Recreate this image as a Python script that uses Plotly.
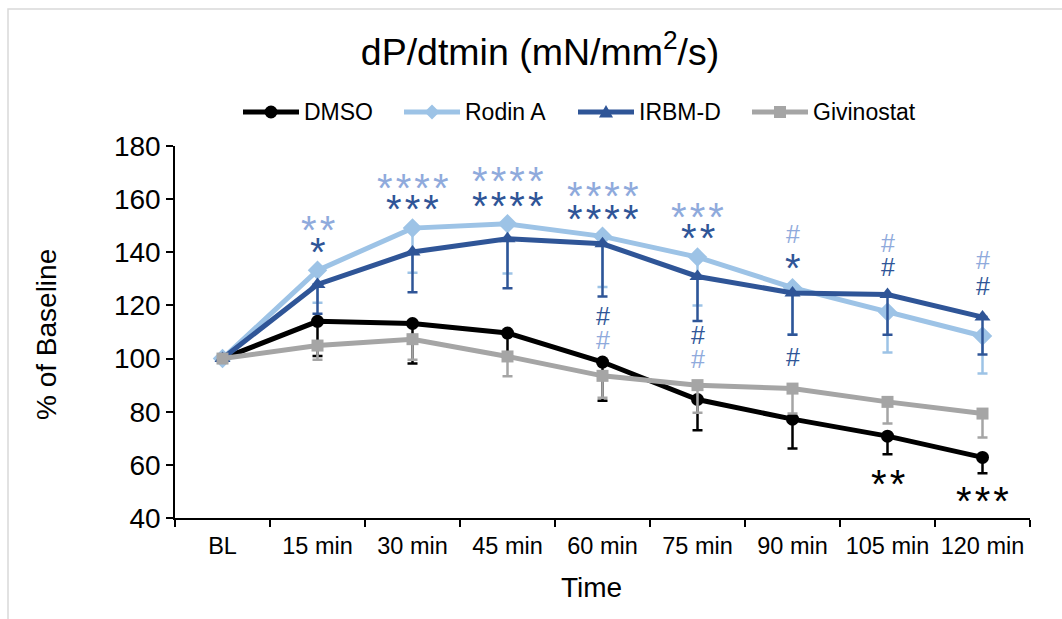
import plotly.graph_objects as go

# Time points and group means (% of baseline) with SEM (lower bars only)
time_labels = ["BL", "15 min", "30 min", "45 min", "60 min", "75 min", "90 min", "105 min", "120 min"]

dmso_mean = [100, 114.0, 113.2, 109.6, 98.7, 84.6, 77.2, 70.8, 62.8]
dmso_sem = [0, 13.0, 15.1, 9.0, 14.6, 11.6, 11.0, 6.8, 6.0]

rodin_mean = [100, 133.2, 149.1, 150.7, 146.0, 138.2, 126.7, 117.5, 108.5]
rodin_sem = [0, 12.2, 16.8, 18.7, 19.1, 18.2, 17.5, 15.2, 14.1]

irbm_mean = [100, 127.9, 140.1, 145.1, 143.2, 130.9, 124.7, 124.1, 115.6]
irbm_sem = [0, 11.0, 15.1, 18.6, 19.8, 16.8, 15.7, 15.1, 14.1]

givi_mean = [100, 104.9, 107.3, 100.8, 93.5, 90.0, 88.7, 83.7, 79.3]
givi_sem = [0, 5.3, 7.7, 7.5, 8.2, 10.4, 9.4, 8.1, 9.0]

# Significance marks: (time point, text, group, y position in % units)
sig_marks = [
    ("15 min", "**", "rodin", 150.5),
    ("15 min", "*", "irbm", 142.3),
    ("30 min", "****", "rodin", 166.4),
    ("30 min", "***", "irbm", 158.6),
    ("45 min", "****", "rodin", 168.9),
    ("45 min", "****", "irbm", 159.5),
    ("60 min", "****", "rodin", 163.5),
    ("60 min", "****", "irbm", 154.9),
    ("60 min", "#", "irbm", 116.0),
    ("60 min", "#", "rodin", 107.1),
    ("75 min", "***", "rodin", 155.5),
    ("75 min", "**", "irbm", 147.6),
    ("75 min", "#", "irbm", 108.8),
    ("75 min", "#", "rodin", 100.0),
    ("90 min", "#", "rodin", 147.0),
    ("90 min", "*", "irbm", 136.3),
    ("90 min", "#", "irbm", 100.6),
    ("105 min", "#", "rodin", 143.5),
    ("105 min", "#", "irbm", 134.4),
    ("120 min", "#", "rodin", 137.0),
    ("120 min", "#", "irbm", 127.2),
    ("105 min", "**", "dmso", 54.9),
    ("120 min", "***", "dmso", 48.6),
]

FONT = "Liberation Sans, Arial, sans-serif"
mark_colors = {"dmso": "#000000", "rodin": "#8FAADC", "irbm": "#2F5597"}

series = [
    ("DMSO", dmso_mean, dmso_sem, "#000000", "circle", 13),
    ("Rodin A", rodin_mean, rodin_sem, "#9DC3E6", "diamond", 15),
    ("IRBM-D", irbm_mean, irbm_sem, "#2F5597", "triangle-up", 14),
    ("Givinostat", givi_mean, givi_sem, "#A5A5A5", "square", 12),
]

# plot area in pixels (x: 175..1030, y: 146..518)
PX_L, PX_R, PX_T, PX_B = 175, 1030, 146, 518


def px_x(px):
    return (px - PX_L) / (PX_R - PX_L)


def px_y(py):
    return (PX_B - py) / (PX_B - PX_T)


fig = go.Figure()
for name, mean, sem, color, symbol, msize in series:
    fig.add_trace(go.Scatter(
        x=time_labels, y=mean, name=name, mode="lines+markers",
        line=dict(color=color, width=5),
        marker=dict(symbol=symbol, size=msize, color=color, line=dict(width=0)),
        error_y=dict(type="data", symmetric=False, array=[0] * len(sem),
                     arrayminus=sem, color=color, thickness=2.5, width=5),
        hoverinfo="skip", showlegend=False,
    ))

# large asterisks separated by a narrow space
STAR_GAP = "<span style='font-size:11px'> </span>"

annotations = []
for t, txt, grp, yv in sig_marks:
    color = mark_colors[grp]
    if txt.startswith("*"):
        annotations.append(dict(
            x=t, y=yv, xref="x", yref="y", text=STAR_GAP.join(txt), showarrow=False,
            font=dict(family=FONT, size=40, color=color),
            xanchor="center", yanchor="middle", yshift=-6,
        ))
    else:
        annotations.append(dict(
            x=t, y=yv, xref="x", yref="y", text=txt, showarrow=False,
            font=dict(family=FONT, size=25, color=color),
            xanchor="center", yanchor="middle",
        ))

# axis titles
annotations.append(dict(x=px_x(591), y=px_y(587), xref="paper", yref="paper",
                         text="Time", showarrow=False, xanchor="center", yanchor="middle",
                         font=dict(family=FONT, size=28, color="#000000")))
annotations.append(dict(x=px_x(46), y=px_y(335), xref="paper", yref="paper",
                         text="% of Baseline", showarrow=False, textangle=-90,
                         xanchor="center", yanchor="middle",
                         font=dict(family=FONT, size=28, color="#000000")))

# legend row drawn with shapes + labels
shapes = [dict(type="rect", xref="paper", yref="paper",
               x0=px_x(8), x1=px_x(1075), y0=px_y(640), y1=px_y(9),
               line=dict(color="#D9D9D9", width=1.5), fillcolor="rgba(0,0,0,0)",
               layer="below")]
LEG_Y = px_y(112)
legend_slots = [243, 404, 578, 752]  # left edge of each legend line, px
for (name, _, _, color, symbol, _), lx in zip(series, legend_slots):
    shapes.append(dict(type="line", xref="paper", yref="paper",
                       x0=px_x(lx), x1=px_x(lx + 56), y0=LEG_Y, y1=LEG_Y,
                       line=dict(color=color, width=5)))
    cx = px_x(lx + 28)
    common = dict(xref="paper", yref="paper", xsizemode="pixel", ysizemode="pixel",
                  xanchor=cx, yanchor=LEG_Y, fillcolor=color, line=dict(width=0))
    if symbol == "circle":
        shapes.append(dict(type="circle", x0=-6.5, x1=6.5, y0=-6.5, y1=6.5, **common))
    elif symbol == "square":
        shapes.append(dict(type="rect", x0=-6, x1=6, y0=-6, y1=6, **common))
    elif symbol == "diamond":
        shapes.append(dict(type="path", path="M0,7.5 L7.5,0 L0,-7.5 L-7.5,0 Z", **common))
    else:
        shapes.append(dict(type="path", path="M-7,-5.5 L7,-5.5 L0,7 Z", **common))
    annotations.append(dict(x=px_x(lx + 59), y=LEG_Y, xref="paper", yref="paper",
                             text=name, showarrow=False, xanchor="left", yanchor="middle",
                             font=dict(family=FONT, size=23, color="#000000")))

fig.update_layout(
    width=1062, height=619,
    margin=dict(l=PX_L, r=1062 - PX_R, t=PX_T, b=619 - PX_B),
    paper_bgcolor="white", plot_bgcolor="white",
    font=dict(family=FONT, color="#000000"),
    title=dict(text="dP/dtmin (mN/mm<sup>2</sup>/s)", x=540 / 1062, xanchor="center",
               xref="container", y=1 - 52 / 619, yref="container", yanchor="middle",
               font=dict(family=FONT, size=37.5, color="#000000")),
    showlegend=False,
    annotations=annotations,
    shapes=shapes,
    hovermode=False,
)

fig.update_xaxes(
    type="category", range=[-0.5, 8.5], tickson="boundaries",
    showline=True, linecolor="#000000", linewidth=1.5,
    ticks="outside", ticklen=7, tickcolor="#000000", tickwidth=1.5,
    ticklabelstandoff=6,
    tickfont=dict(family=FONT, size=23.5, color="#000000"),
    showgrid=False, zeroline=False, fixedrange=True,
)
fig.update_yaxes(
    range=[40, 180], dtick=20, tick0=40,
    showline=True, linecolor="#000000", linewidth=1.5,
    ticks="outside", ticklen=7, tickcolor="#000000", tickwidth=1.5,
    tickfont=dict(family=FONT, size=28, color="#000000"),
    showgrid=False, zeroline=False, fixedrange=True,
)

fig.write_html("out.html", config={"displayModeBar": False})
